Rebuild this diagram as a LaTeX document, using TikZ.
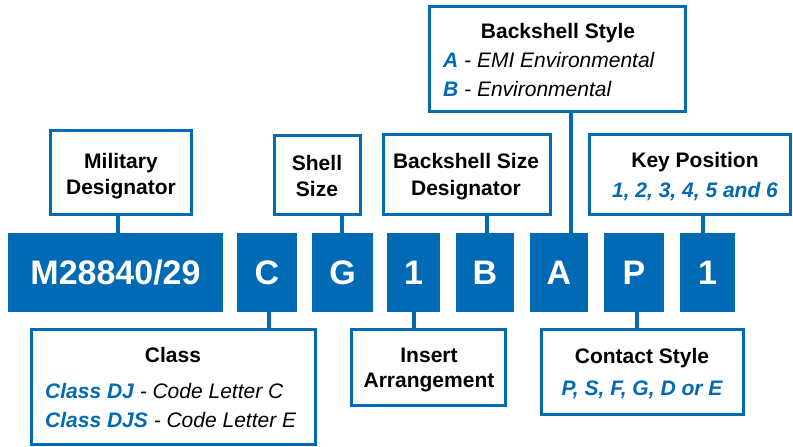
\documentclass[tikz,border=0pt]{standalone}
\usepackage{fontspec}
\setmainfont{Liberation Sans}
\definecolor{mblue}{RGB}{0,106,180}
\begin{document}
\begin{tikzpicture}[x=1pt,y=-1pt,
  lbl/.style={draw=mblue, line width=3pt, fill=white, inner sep=0pt},
  code/.style={fill=mblue, inner sep=0pt, minimum height=79pt, text=white,
    font=\fontsize{34}{34}\selectfont\bfseries, text height=24.5pt, text depth=0pt},
  conn/.style={draw=mblue, line width=4pt},
  ttl/.style={font=\fontsize{21}{21}\selectfont\bfseries, anchor=base, inner sep=0pt},
  opt/.style={font=\fontsize{21}{21}\selectfont, anchor=base west, inner sep=0pt},
  optc/.style={font=\fontsize{21}{21}\selectfont\bfseries\itshape, text=mblue, anchor=base, inner sep=0pt}
]
\useasboundingbox (0,0) rectangle (793,447);

% code boxes
\node[code, minimum width=215pt] (m)  at (115.5,272.5) {M28840/29};
\node[code, minimum width=60pt]  (c)  at (267,272.5) {C};
\node[code, minimum width=61pt]  (g)  at (342.5,272.5) {G};
\node[code, minimum width=53pt]  (i)  at (413.5,272.5) {1};
\node[code, minimum width=58pt]  (b)  at (485,272.5) {B};
\node[code, minimum width=58pt]  (a)  at (559,272.5) {A};
\node[code, minimum width=60pt]  (p)  at (634,272.5) {P};
\node[code, minimum width=55pt]  (k)  at (707.5,272.5) {1};

% label boxes
\node[lbl, minimum width=141pt, minimum height=84pt]  (mil)   at (121,172.5) {};
\node[lbl, minimum width=86pt,  minimum height=79pt]  (shell) at (317.5,175) {};
\node[lbl, minimum width=167pt, minimum height=80pt]  (bsd)   at (467,174.5) {};
\node[lbl, minimum width=256pt, minimum height=105pt] (bst)   at (557.5,59) {};
\node[lbl, minimum width=201pt, minimum height=80pt]  (key)   at (690,174.5) {};
\node[lbl, minimum width=284pt, minimum height=115pt] (cls)   at (173.5,387) {};
\node[lbl, minimum width=154pt, minimum height=76pt]  (ins)   at (428.5,367.5) {};
\node[lbl, minimum width=202pt, minimum height=85pt]  (con)   at (642.5,372) {};

% connectors
\draw[conn] (mil.south -| 118,0)   -- (m.north -| 118,0);
\draw[conn] (shell.south -| 342,0) -- (g.north -| 342,0);
\draw[conn] (bsd.south -| 487,0)   -- (b.north -| 487,0);
\draw[conn] (bst.south -| 571,0)   -- (a.north -| 571,0);
\draw[conn] (key.south -| 703,0)   -- (k.north -| 703,0);
\draw[conn] (c.south -| 269,0)     -- (cls.north -| 269,0);
\draw[conn] (i.south -| 414,0)     -- (ins.north -| 414,0);
\draw[conn] (p.south -| 637,0)     -- (con.north -| 637,0);

% texts
\node[ttl] (t1a) at (121,168) {Military};
\node[ttl] (t1b) at (121,194) {Designator};
\node[ttl] (t2a) at (317,170) {Shell};
\node[ttl] (t2b) at (317,196) {Size};
\node[ttl] (t3a) at (466,168) {Backshell Size};
\node[ttl] (t3b) at (466,195) {Designator};
\node[ttl] (t4a) at (558,38) {Backshell Style};
\node[opt] (t4b) at (443,67) {{\color{mblue}\bfseries\itshape A} \itshape - EMI Environmental};
\node[opt] (t4c) at (443,96) {{\color{mblue}\bfseries\itshape B} \itshape - Environmental};
\node[ttl] (t5a) at (695,167) {Key Position};
\node[optc] (t5b) at (695,197) {1, 2, 3, 4, 5 and 6};
\node[ttl] (t6a) at (173,362) {Class};
\node[opt] (t6b) at (45,398) {{\color{mblue}\bfseries\itshape Class DJ} \itshape - Code Letter C};
\node[opt] (t6c) at (45,427) {{\color{mblue}\bfseries\itshape Class DJS} \itshape - Code Letter E};
\node[ttl] (t7a) at (429,362) {Insert};
\node[ttl] (t7b) at (429,387) {Arrangement};
\node[ttl] (t8a) at (642,363) {Contact Style};
\node[optc] (t8b) at (642,395) {P, S, F, G, D or E};
\end{tikzpicture}
\end{document}
